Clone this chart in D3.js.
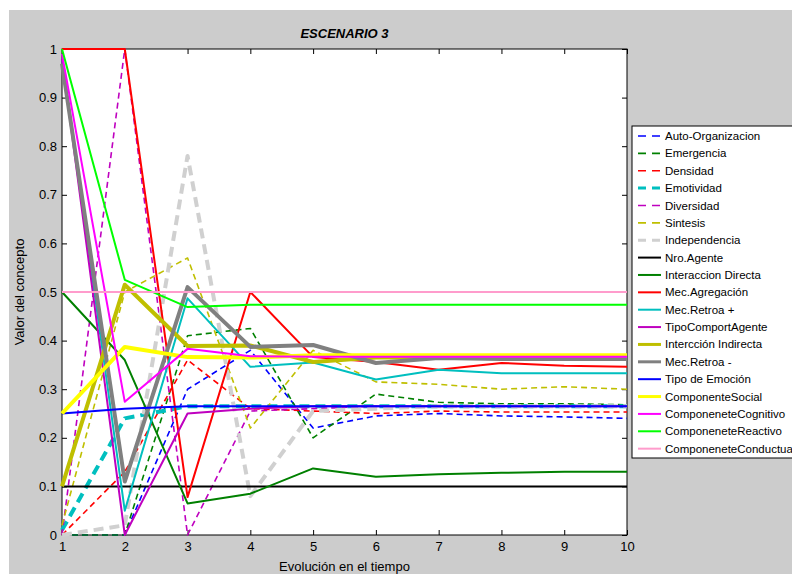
<!DOCTYPE html>
<html>
<head>
<meta charset="utf-8">
<script src="https://cdn.jsdelivr.net/npm/d3@7"></script>
<style>
  body { margin: 0; background: #ffffff; }
  text { font-family: "Liberation Sans", Arial, sans-serif; }
</style>
</head>
<body>
<div class="main_area"></div>
<script>
// time steps and tick labels
const steps = [1, 2, 3, 4, 5, 6, 7, 8, 9, 10];
const yTickValues = [0, 0.1, 0.2, 0.3, 0.4, 0.5, 0.6, 0.7, 0.8, 0.9, 1];

// concept values per step
const autoOrganizacion = [0, 0, 0.30, 0.38, 0.22, 0.245, 0.25, 0.245, 0.243, 0.24];
const emergencia = [0, 0, 0.41, 0.425, 0.20, 0.29, 0.273, 0.27, 0.27, 0.268];
const densidad = [0, 0.13, 0.36, 0.26, 0.255, 0.25, 0.255, 0.253, 0.253, 0.253];
const emotividad = [0.01, 0.24, 0.265, 0.265, 0.265, 0.265, 0.265, 0.265, 0.265, 0.265];
const diversidad = [0, 1, 0, 0.255, 0.26, 0.265, 0.265, 0.265, 0.265, 0.265];
const sintesis = [0.02, 0.5, 0.57, 0.22, 0.38, 0.315, 0.31, 0.30, 0.305, 0.30];
const independencia = [0, 0.02, 0.78, 0.08, 0.255, 0.26, 0.265, 0.265, 0.265, 0.265];
const nroAgente = [0.1, 0.1, 0.1, 0.1, 0.1, 0.1, 0.1, 0.1, 0.1, 0.1];
const interaccionDirecta = [0.5, 0.36, 0.065, 0.085, 0.137, 0.12, 0.125, 0.128, 0.13, 0.13];
const mecAgregacion = [1, 1, 0.078, 0.5, 0.366, 0.356, 0.34, 0.354, 0.348, 0.346];
const mecRetroaPos = [0.98, 0.05, 0.487, 0.346, 0.355, 0.32, 0.34, 0.333, 0.333, 0.333];
const tipoComportAgente = [0.98, 0, 0.25, 0.26, 0.265, 0.265, 0.265, 0.265, 0.265, 0.265];
const interccionIndirecta = [0.1, 0.515, 0.389, 0.39, 0.356, 0.365, 0.365, 0.364, 0.364, 0.364];
const mecRetroaNeg = [0.97, 0.11, 0.51, 0.387, 0.391, 0.354, 0.364, 0.362, 0.362, 0.362];
const tipoEmocion = [0.25, 0.26, 0.265, 0.265, 0.265, 0.265, 0.265, 0.265, 0.265, 0.265];
const componenteSocial = [0.25, 0.387, 0.366, 0.365, 0.37, 0.37, 0.37, 0.37, 0.37, 0.37];
const componenteCognitivo = [0.99, 0.274, 0.383, 0.368, 0.367, 0.367, 0.367, 0.367, 0.367, 0.367];
const componenteReactivo = [1, 0.525, 0.469, 0.474, 0.474, 0.474, 0.474, 0.474, 0.474, 0.474];
const componenteConductual = [0.5, 0.5, 0.5, 0.5, 0.5, 0.5, 0.5, 0.5, 0.5, 0.5];

const seriesNames = ["Auto-Organizacion", "Emergencia", "Densidad", "Emotividad", "Diversidad", "Sintesis",
  "Independencia", "Nro.Agente", "Interaccion Directa", "Mec.Agregación", "Mec.Retroa +", "TipoComportAgente",
  "Intercción Indirecta", "Mec.Retroa -", "Tipo de Emoción", "ComponenteSocial", "ComponeneteCognitivo",
  "ComponeneteReactivo", "ComponeneteConductual"];
const seriesValues = [autoOrganizacion, emergencia, densidad, emotividad, diversidad, sintesis,
  independencia, nroAgente, interaccionDirecta, mecAgregacion, mecRetroaPos, tipoComportAgente,
  interccionIndirecta, mecRetroaNeg, tipoEmocion, componenteSocial, componenteCognitivo,
  componenteReactivo, componenteConductual];

// styles: colour, width, dash
const styles = [
  ["#0000ff", 1.6, "6,4"], ["#008000", 1.6, "6,4"], ["#ff0000", 1.6, "6,4"], ["#00bfbf", 4, "10,6"],
  ["#bf00bf", 1.6, "6,4"], ["#bfbf00", 1.6, "6,4"], ["#d0d0d0", 4, "10,6"], ["#000000", 2, null],
  ["#008000", 2, null], ["#ff0000", 2, null], ["#00bfbf", 2, null], ["#bf00bf", 2, null],
  ["#bfbf00", 4, null], ["#808080", 4, null], ["#0000ff", 2, null], ["#ffff00", 4, null],
  ["#ff00ff", 2, null], ["#00ff00", 2, null], ["#ff9ccc", 2, null]
];

const series = seriesNames.map((name, i) => ({
  name: name,
  values: seriesValues[i].map((v, j) => ({step: steps[j], value: v})),
  color: styles[i][0],
  width: styles[i][1],
  dash: styles[i][2]
}));

const W = 792, H = 574;
const plot = {left: 62, top: 49, width: 565, height: 486};

const svg = d3.select(".main_area")
  .append("svg")
  .attr("width", W)
  .attr("height", H);

// figure background
svg.append("rect")
  .attr("x", 9).attr("y", 10)
  .attr("width", W - 9).attr("height", H - 10)
  .attr("fill", "#cccccc");

const x = d3.scaleLinear().domain([1, 10]).range([0, plot.width]);
const y = d3.scaleLinear().domain([0, 1]).range([plot.height, 0]);

const g = svg.append("g")
  .attr("transform", "translate(" + [plot.left, plot.top] + ")");

g.append("rect")
  .attr("width", plot.width)
  .attr("height", plot.height)
  .attr("fill", "#ffffff")
  .attr("stroke", "#000")
  .attr("stroke-width", 1);

// axes with inward ticks (matlab look), drawn under the lines
g.append("g")
  .attr("transform", "translate(0," + plot.height + ")")
  .call(d3.axisBottom(x).tickValues(steps).tickSizeInner(-5).tickSizeOuter(0).tickPadding(7));
g.append("g")
  .call(d3.axisLeft(y).tickValues(yTickValues).tickFormat(d3.format("")).tickSizeInner(-5).tickSizeOuter(0).tickPadding(5));
g.append("g")
  .call(d3.axisTop(x).tickValues(steps).tickFormat("").tickSizeInner(-5).tickSizeOuter(0));
g.append("g")
  .attr("transform", "translate(" + plot.width + ",0)")
  .call(d3.axisRight(y).tickValues(yTickValues).tickFormat("").tickSizeInner(-5).tickSizeOuter(0));

g.selectAll(".domain").remove();
g.selectAll(".tick line").attr("stroke", "#000");
g.selectAll(".tick text")
  .attr("fill", "#000")
  .style("font-size", "13px")
  .style("font-family", "'Liberation Sans', Arial, sans-serif");

g.append("defs").append("clipPath").attr("id", "clip")
  .append("rect")
  .attr("x", -3).attr("y", -3)
  .attr("width", plot.width + 6).attr("height", plot.height + 6);

const line = d3.line()
  .x(d => x(d.step))
  .y(d => y(d.value));

g.append("g")
  .attr("clip-path", "url(#clip)")
  .selectAll("path")
  .data(series)
  .enter().append("path")
    .attr("d", d => line(d.values))
    .attr("fill", "none")
    .attr("stroke", d => d.color)
    .attr("stroke-width", d => d.width)
    .attr("stroke-dasharray", d => d.dash)
    .attr("stroke-linejoin", "round");

// labels
svg.append("text")
  .attr("x", plot.left + plot.width / 2)
  .attr("y", 38)
  .attr("text-anchor", "middle")
  .style("font-size", "13px")
  .style("font-weight", "bold")
  .style("font-style", "italic")
  .text("ESCENARIO 3");

svg.append("text")
  .attr("x", plot.left + plot.width / 2)
  .attr("y", 571)
  .attr("text-anchor", "middle")
  .style("font-size", "13px")
  .text("Evolución en el tiempo");

svg.append("text")
  .attr("transform", "translate(24," + (plot.top + plot.height / 2) + ") rotate(-90)")
  .attr("text-anchor", "middle")
  .style("font-size", "13px")
  .text("Valor del concepto");

// legend
const legend = svg.append("g")
  .attr("transform", "translate(632,126)");

legend.append("rect")
  .attr("width", 175)
  .attr("height", 332)
  .attr("fill", "#ffffff")
  .attr("stroke", "#000")
  .attr("stroke-width", 1);

const rowStep = 17.37;
const items = legend.selectAll("g.item")
  .data(series)
  .enter().append("g")
    .attr("class", "item")
    .attr("transform", (d, i) => "translate(0," + (10 + i * rowStep) + ")");

items.append("line")
  .attr("x1", 6).attr("x2", 29)
  .attr("stroke", d => d.color)
  .attr("stroke-width", d => Math.min(d.width, 3))
  .attr("stroke-dasharray", d => d.dash ? "8,6" : null);

items.append("text")
  .attr("x", 33)
  .attr("dy", "0.35em")
  .style("font-size", "11.5px")
  .text(d => d.name);
</script>
</body>
</html>
